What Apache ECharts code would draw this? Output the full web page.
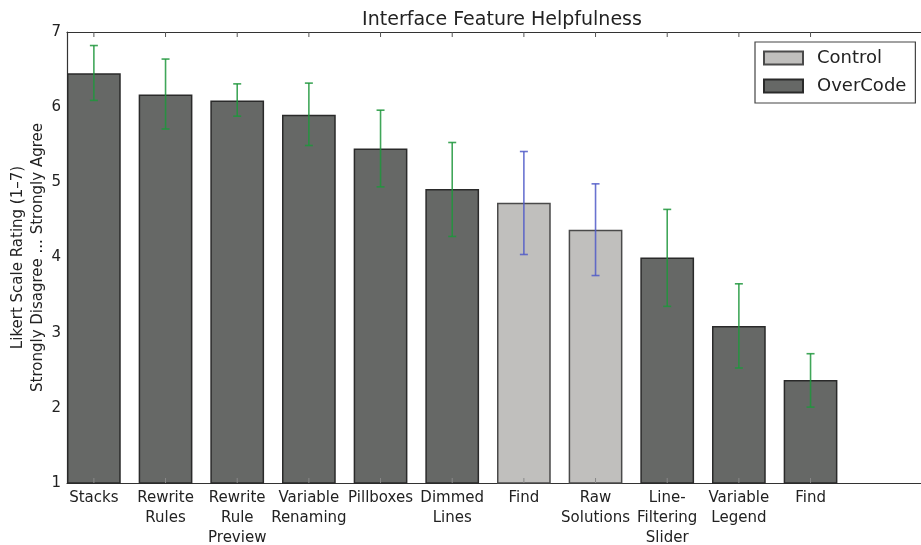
<!DOCTYPE html>
<html>
<head>
<meta charset="utf-8">
<script src="https://cdn.jsdelivr.net/npm/echarts@6/dist/echarts.min.js"></script>
<style>html,body{margin:0;padding:0;background:#fff}#c{width:921px;height:545px}</style>
</head>
<body>
<div id="c"></div>
<script>
const categories = ['Stacks', 'Rewrite\nRules', 'Rewrite\nRule\nPreview', 'Variable\nRenaming', 'Pillboxes', 'Dimmed\nLines', 'Find', 'Raw\nSolutions', 'Line-\nFiltering\nSlider', 'Variable\nLegend', 'Find'];
const groups = ['OverCode', 'OverCode', 'OverCode', 'OverCode', 'OverCode', 'OverCode', 'Control', 'Control', 'OverCode', 'OverCode', 'OverCode'];
const means = [6.45, 6.17, 6.09, 5.90, 5.45, 4.91, 4.73, 4.37, 4.00, 3.09, 2.37];
const errLow = [6.09, 5.71, 5.88, 5.49, 4.94, 4.28, 4.04, 3.76, 3.35, 2.53, 2.01];
const errHigh = [6.82, 6.64, 6.31, 6.32, 5.96, 5.53, 5.41, 4.98, 4.64, 3.65, 2.72];
const yTicks = [1, 2, 3, 4, 5, 6, 7];
const seriesNames = ['Control', 'OverCode'];

const FONT = 'DejaVu Sans';
const barColors = { Control: '#c0bfbd', OverCode: '#666866' };
const borderColors = { Control: '#4a4a4a', OverCode: '#2a2a2a' };
const errColors = { Control: 'rgba(80,90,200,0.85)', OverCode: 'rgba(30,150,60,0.85)' };

const idx = categories.map((_, i) => i);

const barSeries = seriesNames.map(name => ({
  name: name,
  type: 'bar',
  barWidth: '75%',
  barGap: '-100%',
  data: idx.filter(i => groups[i] === name).map(i => [i, means[i]]),
  itemStyle: { color: barColors[name], borderColor: borderColors[name], borderWidth: 1.5 },
  z: 2
}));

const errSeries = {
  type: 'custom',
  name: 'err',
  data: idx.map(i => [i, errLow[i], errHigh[i], seriesNames.indexOf(groups[i])]),
  renderItem: function (params, api) {
    const x = api.value(0);
    const lo = api.coord([x, api.value(1)]);
    const hi = api.coord([x, api.value(2)]);
    const col = errColors[seriesNames[api.value(3)]];
    const cs = params.coordSys;
    const cw = 4;
    const st = { stroke: col, lineWidth: 1.6 };
    const tk = { stroke: '#555', lineWidth: 1 };
    const bt = { stroke: '#888', lineWidth: 1 };
    return {
      type: 'group',
      children: [
        { type: 'line', shape: { x1: lo[0], y1: cs.y, x2: lo[0], y2: cs.y + 5 }, style: tk },
        { type: 'line', shape: { x1: lo[0], y1: cs.y + cs.height - 5, x2: lo[0], y2: cs.y + cs.height }, style: bt },
        { type: 'line', shape: { x1: lo[0], y1: lo[1], x2: hi[0], y2: hi[1] }, style: st },
        { type: 'line', shape: { x1: lo[0] - cw, y1: lo[1], x2: lo[0] + cw, y2: lo[1] }, style: st },
        { type: 'line', shape: { x1: hi[0] - cw, y1: hi[1], x2: hi[0] + cw, y2: hi[1] }, style: st }
      ]
    };
  },
  z: 5
};

const chart = echarts.init(document.getElementById('c'), null, { renderer: 'canvas' });
chart.setOption({
  animation: false,
  backgroundColor: '#fff',
  textStyle: { fontFamily: FONT },
  title: {
    text: 'Interface Feature Helpfulness',
    left: 497,
    top: 6,
    textAlign: 'center',
    textStyle: { fontFamily: FONT, fontSize: 19, fontWeight: 'normal', color: '#222' }
  },
  legend: {
    data: seriesNames,
    orient: 'vertical',
    left: 755,
    top: 42,
    itemWidth: 39,
    itemHeight: 13,
    itemGap: 8,
    padding: [6, 9, 7, 8],
    borderColor: '#444',
    borderWidth: 1.2,
    icon: 'rect',
    textStyle: { fontFamily: FONT, fontSize: 18, color: '#222', lineHeight: 20, padding: [0, 0, 0, 9] }
  },
  grid: { left: 67, right: -6, top: 32, bottom: 62, containLabel: false, outerBoundsMode: 'none' },
  xAxis: [
    {
      type: 'value', min: -0.375, max: 11.625, position: 'bottom',
      splitLine: { show: false },
      axisLine: { show: true, onZero: false, lineStyle: { color: '#333', width: 1.2 } },
      axisTick: { show: false },
      axisLabel: {
        customValues: idx,
        formatter: v => categories[Math.round(v)],
        fontFamily: FONT, fontSize: 15, lineHeight: 20, color: '#222', margin: 5, align: 'center'
      }
    },
    {
      type: 'value', min: -0.375, max: 11.625, position: 'top',
      splitLine: { show: false },
      axisLine: { show: true, onZero: false, lineStyle: { color: '#333', width: 1.2 } },
      axisTick: { show: false },
      axisLabel: { show: false }
    }
  ],
  yAxis: {
    type: 'value',
    min: 1,
    max: 7,
    interval: 1,
    splitLine: { show: false },
    axisLine: { show: true, onZero: false, lineStyle: { color: '#333', width: 1.2 } },
    axisTick: { show: false },
    axisLabel: { fontFamily: FONT, fontSize: 15, color: '#222', margin: 6, formatter: v => yTicks.includes(v) ? String(v) : '' },
    name: 'Likert Scale Rating (1\u20137)\nStrongly Disagree ... Strongly Agree',
    nameLocation: 'middle',
    nameRotate: 90,
    nameGap: 19,
    nameMoveOverlap: false,
    nameTextStyle: { fontFamily: FONT, fontSize: 15, lineHeight: 20, color: '#222' }
  },
  series: barSeries.concat([errSeries])
});
</script>
</body>
</html>
